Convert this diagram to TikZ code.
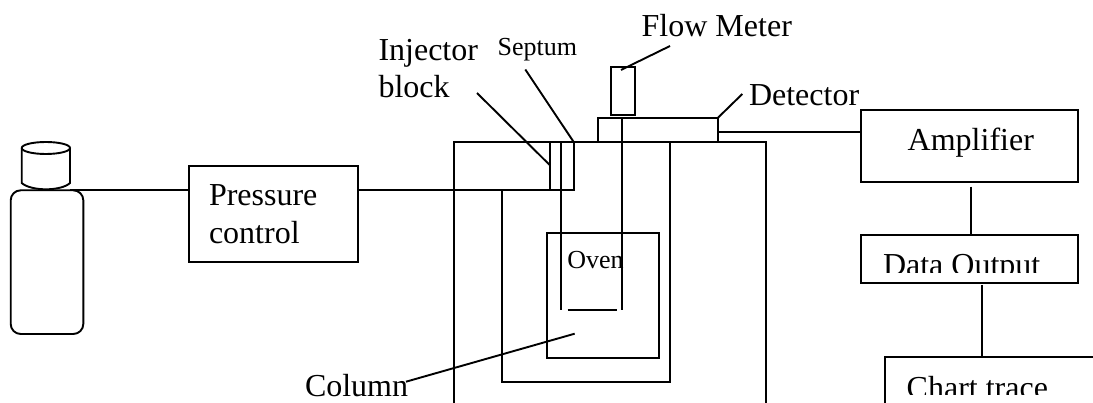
\documentclass[tikz,border=0pt]{standalone}
\usepackage{fontspec}
\setmainfont{Liberation Serif}
\tikzset{
  boxnode/.style={draw=black,line width=1.9pt,inner sep=0pt,outer sep=0pt,anchor=north west},
  wire/.style={draw=black,line width=1.9pt},
  biglabel/.style={font=\fontsize{32}{32}\selectfont,inner sep=0pt,outer sep=0pt,anchor=base west,text=black},
  smalllabel/.style={font=\fontsize{26}{26}\selectfont,inner sep=0pt,outer sep=0pt,anchor=base west,text=black},
}
\begin{document}
\begin{tikzpicture}[x=1pt,y=-1pt]
\useasboundingbox (0,0) rectangle (1093,403);
% Boxes
\node[boxnode,minimum width=169pt,minimum height=96.6pt] (press) at (189.3,165.7) {};
\node[boxnode,minimum width=216.7pt,minimum height=72pt] (amp) at (861.3,110) {};
\node[boxnode,minimum width=216.7pt,minimum height=48pt] (data) at (861.3,235.3) {};
\node[boxnode,minimum width=24pt,minimum height=48pt] (inj) at (549.7,142) {};
\node[boxnode,minimum width=24pt,minimum height=48pt] (flow) at (611,67) {};
\node[boxnode,minimum width=120pt,minimum height=24pt] (det) at (597.7,118) {};
\node[boxnode,minimum width=112.6pt,minimum height=125.3pt] (oven) at (546.7,232.7) {};
% Bottle
\node[boxnode,rounded corners=10pt,minimum width=72.6pt,minimum height=143.7pt] (bottle) at (10.7,190.3) {};
\coordinate (capL) at (21.7,148);
\coordinate (capR) at (70,148);
\coordinate (capOut) at (70,190);
\draw[wire] (capL) arc[start angle=180,end angle=-180,x radius=24.15pt,y radius=6pt];
\draw[wire] (capL) -- (21.7,183) .. controls (26,187) and (36,189.3) .. (46,189.3) .. controls (56,189.3) and (66,187) .. (70,183) -- (capR);
% Housing (open at the bottom)
\coordinate (houseTL) at (453.7,142);
\coordinate (houseTR) at (765.7,142);
\coordinate (houseBL) at (453.7,403);
\coordinate (houseBR) at (765.7,403);
\draw[wire] (houseBL) -- (houseTL) -- (houseTR) -- (houseBR);
% Inner wall
\coordinate (wallA) at (501.7,190);
\coordinate (wallB) at (501.7,382);
\coordinate (wallC) at (669.7,382);
\coordinate (wallD) at (669.7,142);
\draw[wire] (wallA) -- (wallB) -- (wallC) -- (wallD);
% Column
\coordinate (colA) at (560.9,142);
\coordinate (colB) at (560.9,310);
\coordinate (colC) at (621.7,118);
\coordinate (colD) at (621.7,310);
\coordinate (colE) at (567.7,310);
\coordinate (colF) at (617,310);
\draw[wire] (colA) -- (colB);
\draw[wire] (colC) -- (colD);
\draw[wire] (colE) -- (colF);
% Chart box (open, runs off the page)
\coordinate (chartBL) at (885.3,403);
\coordinate (chartTL) at (885.3,357.3);
\coordinate (chartTR) at (1093,357.3);
\draw[wire] (chartBL) -- (chartTL) -- (chartTR);
% Connectors
\draw[wire] (capOut) -- (press.west |- capOut);
\draw[wire] (press.east |- inj.south) -- (inj.south west);
\coordinate (detOut) at (717.7,131.7);
\draw[wire] (detOut) -- (amp.west |- detOut);
\coordinate (ampDown) at (971,186.7);
\draw[wire] (ampDown) -- (data.north -| ampDown);
\coordinate (dataDown) at (981.7,285);
\draw[wire] (dataDown) -- (chartTL -| dataDown);
% Leader lines
\coordinate (injFree) at (477,93);
\coordinate (injEnd) at (549.7,165);
\draw[wire] (injFree) -- (injEnd);
\coordinate (sepFree) at (525.3,69.5);
\draw[wire] (sepFree) -- (inj.north east);
\coordinate (flowFree) at (670,46);
\coordinate (flowEnd) at (621,70);
\draw[wire] (flowFree) -- (flowEnd);
\coordinate (detFree) at (742.3,94);
\draw[wire] (detFree) -- (det.north east);
\coordinate (colFree) at (406,381.7);
\coordinate (colEnd) at (574.7,333.7);
\draw[wire] (colFree) -- (colEnd);
% Labels
\node[biglabel] (tPressure) at (209,206) {Pressure};
\node[biglabel] (tControl) at (209,244) {control};
\node[biglabel] (tInjector) at (378.5,61) {Injector};
\node[biglabel] (tBlock) at (378.5,98) {block};
\node[smalllabel] (tSeptum) at (497.7,55.7) {Septum};
\node[biglabel] (tFlow) at (641.7,36.7) {Flow Meter};
\node[biglabel] (tDetector) at (749,106) {Detector};
\node[biglabel] (tAmp) at (907.7,150.7) {Amplifier};
\node[smalllabel] (tOven) at (567.3,269) {Oven};
\node[biglabel] (tColumn) at (305,396) {Column};
\begin{scope}
\clip (861.3,240) rectangle (1078,273);
\node[biglabel] (tData) at (883,276) {Data Output};
\end{scope}
\begin{scope}
\clip (886,360) rectangle (1093,395);
\node[biglabel] (tChart) at (906.7,399) {Chart trace};
\end{scope}
\end{tikzpicture}
\end{document}
